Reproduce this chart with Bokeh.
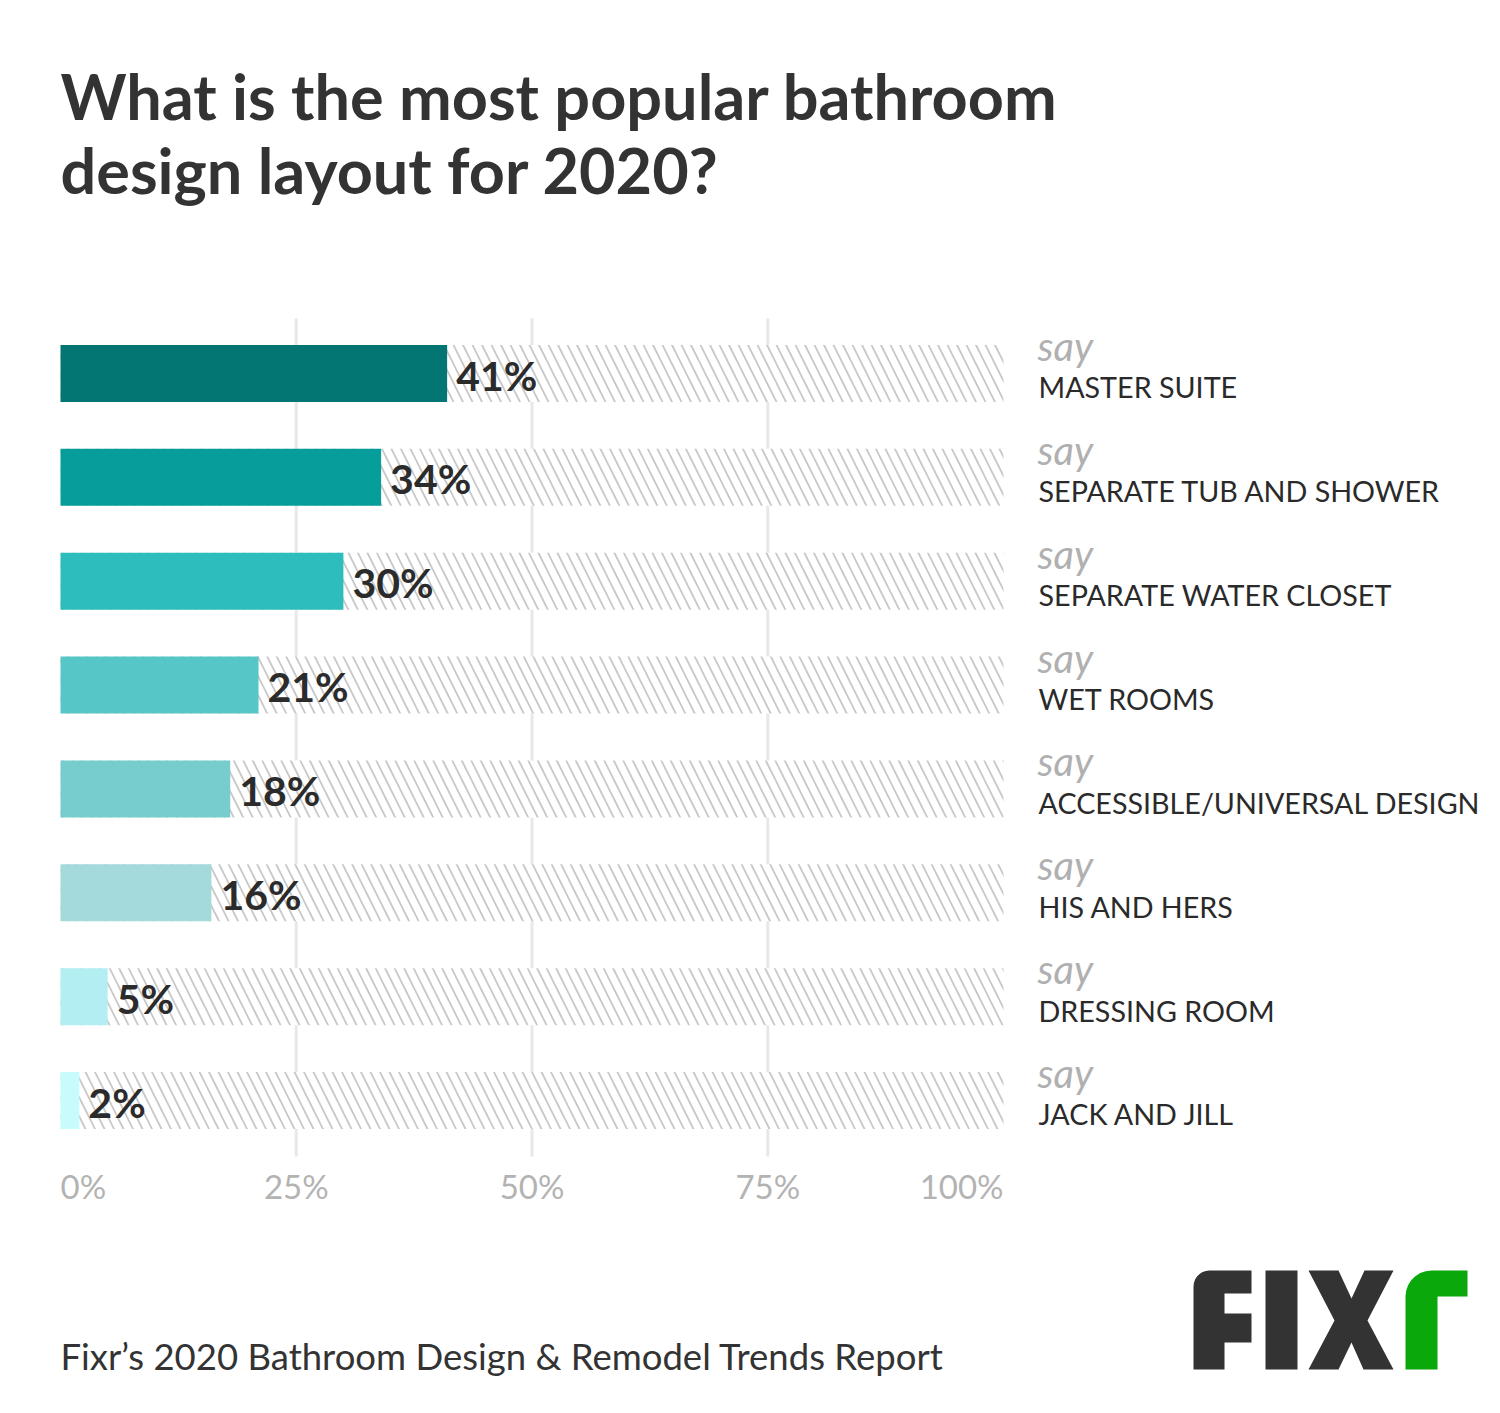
import numpy as np
from bokeh.plotting import figure
from bokeh.models import Range1d
from bokeh.embed import file_html
from bokeh.resources import INLINE
from bokeh.core.properties import value

# ---------------- data ----------------
categories = ["MASTER SUITE", "SEPARATE TUB AND SHOWER", "SEPARATE WATER CLOSET",
              "WET ROOMS", "ACCESSIBLE/UNIVERSAL DESIGN", "HIS AND HERS",
              "DRESSING ROOM", "JACK AND JILL"]
values = [41, 34, 30, 21, 18, 16, 5, 2]
bar_colors = ["#037674", "#069d9b", "#2ebdbd", "#56c6c6", "#77cdcd", "#a4dadc", "#b2eef2", "#c8fbfb"]
ticks = [0, 25, 50, 75, 100]
tick_labels = ["0%", "25%", "50%", "75%", "100%"]
title_lines = ["What is the most popular bathroom", "design layout for 2020?"]
source_note = "Fixr\u2019s 2020 Bathroom Design & Remodel Trends Report"
say_word = "say"

# ---------------- layout (page pixel geometry) ----------------
W, H = 1484, 1397
ORIGIN = 0          # canvas origin on the captured page
X0_PX, X100_PX = 60, 1003
ROW0_PX, ROW_STEP = 373.0, 103.86
PX_PER_PCT = (X100_PX - X0_PX) / 100.0
K_BASE = 0.387      # baseline correction (fraction of font size)


def dx(px):
    return (px - X0_PX) / PX_PER_PCT


def dy(py):
    return (py - ROW0_PX) / ROW_STEP


def base(py, size):
    """data y so that the text baseline lands at page pixel py"""
    return dy(py - K_BASE * size)


rows = list(range(len(categories)))
BAR_H = 57 / ROW_STEP

p = figure(width=W, height=H,
           x_range=Range1d(dx(ORIGIN), dx(ORIGIN + W)),
           y_range=Range1d(dy(ORIGIN + H), dy(ORIGIN)),
           output_backend="svg", toolbar_location=None,
           x_axis_location=None, y_axis_location=None, min_border=0)
p.grid.visible = False
p.outline_line_color = None
p.background_fill_color = "white"
p.border_fill_color = "white"

# grid lines
grid_ticks = ticks[1:-1]
p.segment(x0=grid_ticks, x1=grid_ticks, y0=[dy(318)] * len(grid_ticks), y1=[dy(1156)] * len(grid_ticks),
          line_color="#e8e8e8", line_width=3)

# hatched background bars (0..100%)
p.hbar(y=rows, left=[0] * len(rows), right=[100] * len(rows), height=BAR_H,
       fill_color="white", line_color=None,
       hatch_pattern="\\", hatch_color="#c8c8c8", hatch_weight=1.8, hatch_scale=19)

# value bars
p.hbar(y=rows, left=[0] * len(rows), right=values, height=BAR_H,
       fill_color=bar_colors, line_color=None)

# value labels
VAL_SIZE = 41
p.text(x=values, y=[r + (17.5 - K_BASE * VAL_SIZE) / ROW_STEP for r in rows],
       text=[f"{v}%" for v in values],
       x_offset=9, text_font=value("Lato"), text_font_style="bold", text_font_size=f"{VAL_SIZE}px",
       text_color="#2b2b2b", text_baseline="alphabetic", text_align="left")

# right-hand labels
SAY_SIZE, NAME_SIZE = 40, 28.7
p.text(x=[dx(1037)] * len(rows), y=[r + (-12 - K_BASE * SAY_SIZE) / ROW_STEP for r in rows],
       text=[say_word] * len(rows),
       text_font=value("Lato"), text_font_style="italic", text_font_size=f"{SAY_SIZE}px",
       text_color="#b0b0b0", text_baseline="alphabetic", text_align="left")
p.text(x=[dx(1038)] * len(rows), y=[r + (25 - K_BASE * NAME_SIZE) / ROW_STEP for r in rows],
       text=categories,
       text_font=value("Lato"), text_font_size=f"{NAME_SIZE}px",
       text_color="#2a2a2a", text_baseline="alphabetic", text_align="left")

# tick labels
TICK_SIZE = 33
aligns = ["left", "center", "center", "center", "right"]
for t, lab, al in zip(ticks, tick_labels, aligns):
    p.text(x=[t], y=[base(1198.5, TICK_SIZE)], text=[lab], text_font=value("Lato"),
           text_font_size=f"{TICK_SIZE}px",
           text_color="#b3b3b3", text_baseline="alphabetic", text_align=al)

# title
TITLE_SIZE = 63
p.text(x=[dx(60), dx(60)], y=[base(119.5, TITLE_SIZE), base(193, TITLE_SIZE)], text=title_lines,
       text_font=value("Lato"), text_font_style="bold", text_font_size=f"{TITLE_SIZE}px",
       text_color="#333333", text_baseline="alphabetic", text_align="left")

# footer
FOOT_SIZE = 36.5
p.text(x=[dx(60)], y=[base(1369.5, FOOT_SIZE)], text=[source_note],
       text_font=value("Lato"), text_font_size=f"{FOOT_SIZE}px",
       text_color="#333333", text_baseline="alphabetic", text_align="left")


# logo (decorative shapes)
def rounded_corner(cx, cy, r, a0, a1, n=8):
    a = np.linspace(a0, a1, n)
    return list(cx + r * np.cos(a)), list(cy - r * np.sin(a))


def poly(pts):
    return [dx(x) for x, _ in pts], [dy(y) for _, y in pts]


ax, ay = rounded_corner(1193 + 16, 1270 + 16, 16, np.pi, np.pi / 2)
F_pts = [(1193, 1369)] + list(zip(ax, ay)) + [(1251, 1270), (1251, 1293), (1224, 1293), (1224, 1313),
                                             (1251, 1313), (1251, 1342), (1224, 1342), (1224, 1369)]
I_pts = [(1265, 1270), (1297, 1270), (1297, 1369), (1265, 1369)]
X_pts = [(1308, 1270), (1338, 1270), (1351, 1298), (1364, 1270), (1393, 1270), (1367, 1320),
         (1393, 1369), (1363, 1369), (1351, 1342), (1338, 1369), (1308, 1369), (1334, 1320)]
bx, by = rounded_corner(1405 + 26, 1270 + 26, 26, np.pi, np.pi / 2)
R_pts = [(1405, 1369)] + list(zip(bx, by)) + [(1467, 1270), (1467, 1296), (1437, 1296), (1437, 1369)]

dark_xs, dark_ys = [], []
for pts in (F_pts, I_pts, X_pts):
    xs, ys = poly(pts)
    dark_xs.append(xs)
    dark_ys.append(ys)
p.patches(xs=dark_xs, ys=dark_ys, fill_color="#333333", line_color=None)
rx, ry = poly(R_pts)
p.patches(xs=[rx], ys=[ry], fill_color="#0aa80a", line_color=None)

open("out.html", "w").write(file_html(p, INLINE))
